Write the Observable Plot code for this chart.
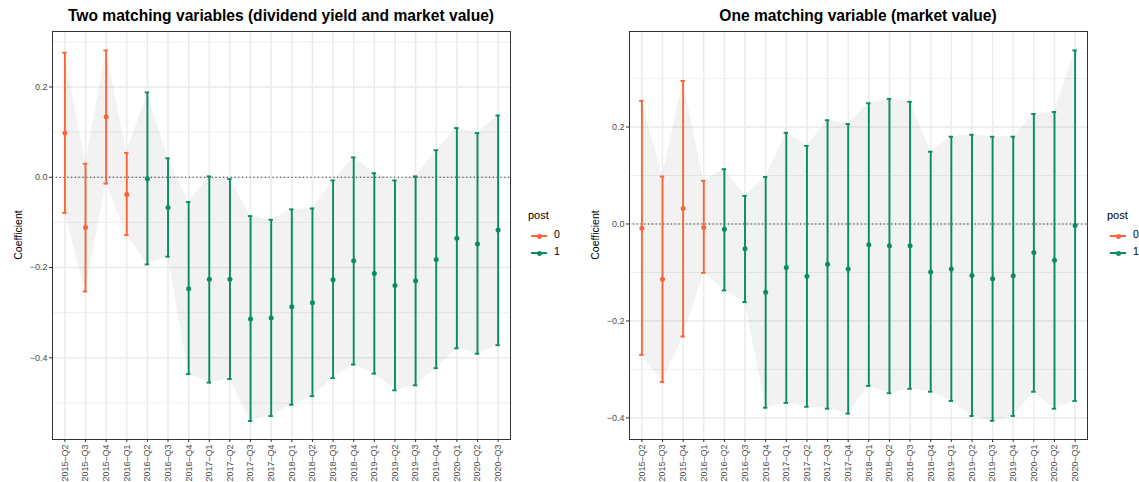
<!DOCTYPE html>
<html>
<head>
<meta charset="utf-8">
<script src="https://cdn.jsdelivr.net/npm/d3@7"></script>
<script src="https://cdn.jsdelivr.net/npm/@observablehq/plot@0.6"></script>
<style>
  html, body { margin: 0; padding: 0; background: #fff; }
  #wrap { position: relative; width: 1139px; height: 482px; overflow: hidden; font-family: "Liberation Sans", Arial, sans-serif; }
  .panel { position: absolute; top: 0; }
  .title { position: absolute; top: 7px; font-weight: bold; font-size: 15.6px; color: #000; white-space: nowrap; transform: translateX(-50%); }
  .ylab { position: absolute; font-size: 10.5px; color: #000; white-space: nowrap; transform: translate(-50%, -50%) rotate(-90deg); }
  .legend { position: absolute; font-size: 11px; color: #000; }
  .legend .lt { position: absolute; left: 0; top: 0; white-space: nowrap; }
  .legend .row { position: absolute; left: 3px; height: 14px; width: 40px; }
  .legend .ln { position: absolute; left: 0; top: 6px; width: 16px; height: 2px; }
  .legend .dt { position: absolute; left: 5.5px; top: 4.5px; width: 5px; height: 5px; border-radius: 50%; }
  .legend .lb { position: absolute; left: 23px; top: -1px; font-size: 10.5px; }
</style>
</head>
<body>
<div id="wrap"></div>
<script>
const quarters = ["2015-Q2","2015-Q3","2015-Q4","2016-Q1","2016-Q2","2016-Q3","2016-Q4","2017-Q1","2017-Q2","2017-Q3","2017-Q4","2018-Q1","2018-Q2","2018-Q3","2018-Q4","2019-Q1","2019-Q2","2019-Q3","2019-Q4","2020-Q1","2020-Q2","2020-Q3"];
const quarterLabels = quarters.map(q => q.replace("-", "–"));
const post = [0,0,0,0,1,1,1,1,1,1,1,1,1,1,1,1,1,1,1,1,1,1];

// Panel 1: two matching variables
const coef1  = [0.098,-0.111,0.134,-0.038,-0.003,-0.067,-0.247,-0.226,-0.226,-0.314,-0.312,-0.287,-0.278,-0.227,-0.185,-0.213,-0.240,-0.229,-0.182,-0.135,-0.148,-0.117];
const upper1 = [0.276,0.030,0.281,0.054,0.188,0.042,-0.055,0.002,-0.004,-0.086,-0.094,-0.071,-0.069,-0.007,0.044,0.009,-0.007,0.002,0.060,0.109,0.098,0.137];
const lower1 = [-0.079,-0.253,-0.014,-0.128,-0.193,-0.176,-0.436,-0.455,-0.447,-0.540,-0.529,-0.504,-0.485,-0.445,-0.415,-0.435,-0.472,-0.461,-0.423,-0.379,-0.391,-0.372];

// Panel 2: one matching variable
const coef2  = [-0.009,-0.114,0.032,-0.007,-0.011,-0.051,-0.141,-0.090,-0.108,-0.083,-0.093,-0.043,-0.045,-0.045,-0.099,-0.093,-0.106,-0.113,-0.107,-0.059,-0.075,-0.003];
const upper2 = [0.254,0.098,0.295,0.089,0.113,0.058,0.097,0.188,0.161,0.214,0.206,0.249,0.258,0.252,0.149,0.180,0.184,0.180,0.180,0.227,0.231,0.358];
const lower2 = [-0.270,-0.326,-0.232,-0.101,-0.137,-0.161,-0.379,-0.369,-0.377,-0.381,-0.391,-0.334,-0.349,-0.340,-0.346,-0.365,-0.396,-0.406,-0.396,-0.346,-0.381,-0.365];

const titles = ["Two matching variables (dividend yield and market value)", "One matching variable (market value)"];
const yTicks = [-0.4, -0.2, 0, 0.2];
const legendTitle = "post";
const legendLevels = ["0", "1"];
const yLabel = "Coefficient";

const colors = {0: "#F8653A", 1: "#078D5F"};
const font = "'Liberation Sans', Arial, sans-serif";

function makePanel(coef, upper, lower, cfg) {
  const data = quarters.map((q, i) => ({q, coef: coef[i], lo: lower[i], hi: upper[i], post: post[i]}));
  const [y0, y1] = cfg.ydomain;
  const minor = [];
  for (let v = -0.5; v <= 0.5; v += 0.2) { const r = Math.round(v * 10) / 10; if (r > y0 && r < y1) minor.push(r); }
  const fmt = d3.format(".1f");
  return Plot.plot({
    width: cfg.width, height: 482,
    marginLeft: cfg.ml, marginRight: cfg.mr, marginTop: 31, marginBottom: 43,
    style: {fontFamily: font, fontSize: "9px", background: "transparent"},
    x: {type: "point", domain: quarters, padding: 0.6, round: false, axis: null},
    y: {domain: cfg.ydomain, axis: null},
    marks: [
      Plot.ruleY(minor, {stroke: "#EBEBEB", strokeWidth: 0.8}),
      Plot.ruleY(yTicks, {stroke: "#EBEBEB", strokeWidth: 1.5}),
      Plot.ruleX(quarters, {stroke: "#EBEBEB", strokeWidth: 1.5}),
      Plot.areaY(data, {x: "q", y1: "lo", y2: "hi", fill: "#000", fillOpacity: 0.05, curve: "linear"}),
      Plot.ruleY([0], {stroke: "#333", strokeWidth: 1, strokeDasharray: "1.2,2.6"}),
      Plot.ruleX(data, {x: "q", y1: "lo", y2: "hi", stroke: d => colors[d.post], strokeWidth: 1.9}),
      Plot.ruleY(data, {x1: "q", x2: "q", y: "hi", stroke: d => colors[d.post], strokeWidth: 1.9, insetLeft: -2.2, insetRight: -2.2}),
      Plot.ruleY(data, {x1: "q", x2: "q", y: "lo", stroke: d => colors[d.post], strokeWidth: 1.9, insetLeft: -2.2, insetRight: -2.2}),
      Plot.dot(data, {x: "q", y: "coef", fill: d => colors[d.post], r: 2.5}),
      Plot.frame({stroke: "#333", strokeWidth: 1}),
      Plot.axisY(yTicks, {tickSize: 3, tickPadding: 2, tickFormat: d => fmt(d), stroke: "#333", fill: "#4D4D4D", fontSize: 9, label: null}),
      Plot.axisX(quarters, {tickSize: 3, tickPadding: 2, tickRotate: -90, tickFormat: d => quarterLabels[quarters.indexOf(d)], stroke: "#333", fill: "#4D4D4D", fontSize: 9, label: null})
    ]
  });
}

const wrap = document.getElementById("wrap");
const cfgs = [
  {left: 0, width: 570, ml: 52, mr: 60, ydomain: [-0.581, 0.323], legendX: 528},
  {left: 570, width: 569, ml: 59, mr: 52, ydomain: [-0.4445, 0.397], legendX: 1107 - 570}
];
const series = [[coef1, upper1, lower1], [coef2, upper2, lower2]];

cfgs.forEach((cfg, k) => {
  const div = document.createElement("div");
  div.className = "panel";
  div.style.left = cfg.left + "px";
  div.style.width = cfg.width + "px";
  div.style.height = "482px";
  const svg = makePanel(...series[k], cfg);
  div.appendChild(svg);

  const plotLeft = cfg.ml, plotRight = cfg.width - cfg.mr;
  const t = document.createElement("div");
  t.className = "title";
  t.textContent = titles[k];
  t.style.left = ((plotLeft + plotRight) / 2) + "px";
  div.appendChild(t);

  const yl = document.createElement("div");
  yl.className = "ylab";
  yl.textContent = yLabel;
  yl.style.left = (cfg.ml - 34) + "px";
  yl.style.top = "235px";
  div.appendChild(yl);

  const lg = document.createElement("div");
  lg.className = "legend";
  lg.style.left = cfg.legendX + "px";
  lg.style.top = "209px";
  const lt = document.createElement("div");
  lt.className = "lt"; lt.textContent = legendTitle;
  lg.appendChild(lt);
  legendLevels.forEach((lev, j) => {
    const row = document.createElement("div");
    row.className = "row";
    row.style.top = (20 + j * 17) + "px";
    const c = colors[+lev];
    row.innerHTML = `<div class="ln" style="background:${c}"></div><div class="dt" style="background:${c}"></div><div class="lb">${lev}</div>`;
    lg.appendChild(row);
  });
  div.appendChild(lg);
  wrap.appendChild(div);
});
</script>
</body>
</html>
